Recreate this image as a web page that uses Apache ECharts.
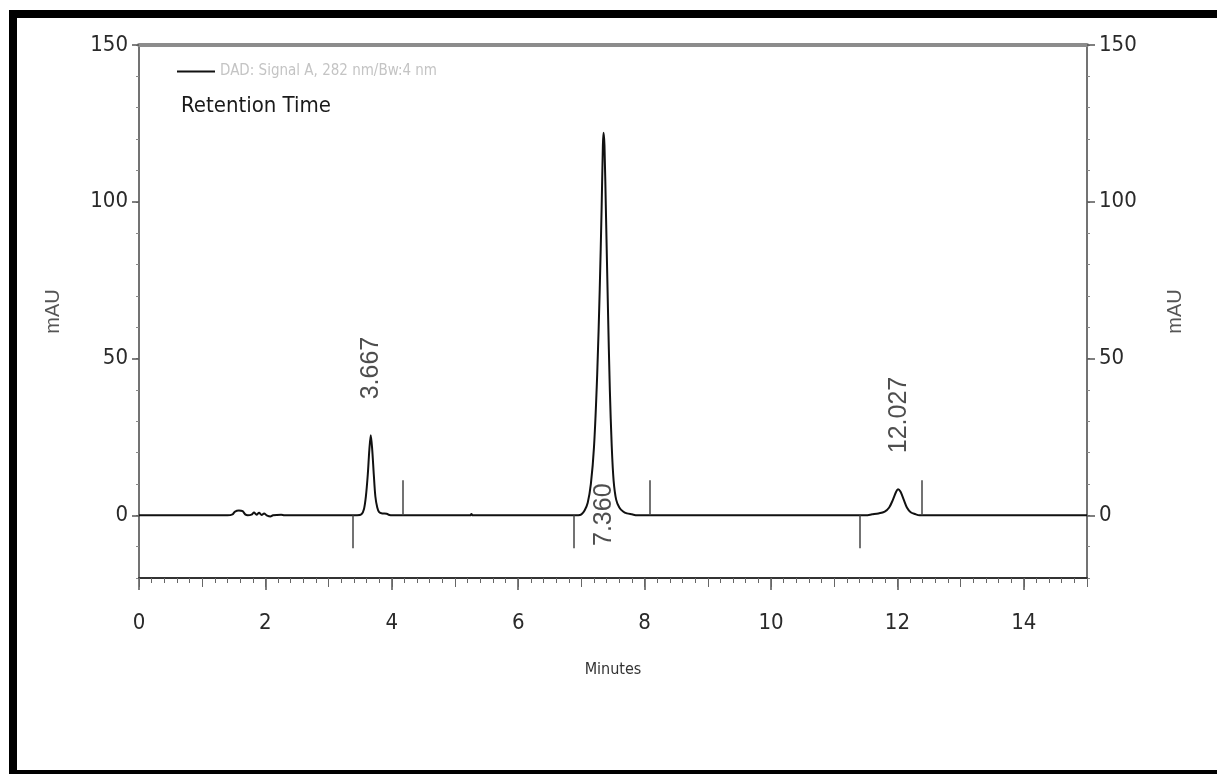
<!DOCTYPE html>
<html>
<head>
<meta charset="utf-8">
<script src="https://cdn.jsdelivr.net/npm/echarts@6/dist/echarts.min.js"></script>
<style>
  html, body { margin: 0; padding: 0; background: #fff; }
  #container { width: 1217px; height: 774px; }
</style>
</head>
<body>
<div id="container"></div>
<script>
// chromatogram trace, [minutes, mAU]
var signal = [
  [0, 0], [1.40, 0], [1.48, 0.3], [1.52, 1.2], [1.58, 1.5], [1.64, 1.3], [1.68, 0.3], [1.72, 0],
  [1.78, 0.2], [1.82, 0.9], [1.86, 0.2], [1.90, 0.8], [1.94, 0.1], [1.98, 0.6], [2.02, 0],
  [2.08, -0.4], [2.12, 0], [2.25, 0.2], [2.30, 0],
  [3.45, 0], [3.52, 0.3], [3.56, 2], [3.59, 6], [3.62, 13], [3.645, 21], [3.667, 25.5],
  [3.69, 21], [3.715, 13], [3.74, 6], [3.77, 2.5], [3.80, 1], [3.85, 0.6], [3.92, 0.5], [3.96, 0.1], [4.02, 0],
  [5.24, 0], [5.26, 0.4], [5.28, 0],
  [6.95, 0], [7.00, 0.3], [7.05, 1.5], [7.10, 4], [7.15, 10], [7.20, 22], [7.25, 45], [7.29, 72],
  [7.32, 98], [7.34, 118], [7.35, 122], [7.365, 118], [7.39, 95], [7.42, 66], [7.45, 40], [7.48, 22],
  [7.51, 11], [7.55, 5], [7.60, 2.5], [7.66, 1.2], [7.72, 0.6], [7.80, 0.3], [7.88, 0],
  [11.50, 0], [11.60, 0.3], [11.70, 0.6], [11.80, 1.2], [11.87, 2.5], [11.93, 5], [11.98, 7.5],
  [12.01, 8.3], [12.05, 7.5], [12.10, 5], [12.15, 2.5], [12.21, 1], [12.28, 0.4], [12.35, 0],
  [15, 0]
];

var peakTimes = [3.667, 7.360, 12.027];
var peakHeights = [25.5, 122, 8.3];
var peakStart = [3.39, 6.88, 11.41];
var peakEnd = [4.17, 8.08, 12.38];

var xTicks = [0, 2, 4, 6, 8, 10, 12, 14];
var yTicks = [0, 50, 100, 150];

var signalName = 'DAD: Signal A, 282 nm/Bw:4 nm';

var narrow = "'Liberation Sans Narrow', 'DejaVu Sans Condensed', sans-serif";
var plain = "'Liberation Sans', Arial, sans-serif";

var dom = document.getElementById('container');
var myChart = echarts.init(dom, null, { renderer: 'canvas' });

// baseline markers: start of peak goes down, end of peak goes up
var marks = [];
for (var i = 0; i < peakStart.length; i++) {
  marks.push([{ coord: [peakStart[i], 0] }, { coord: [peakStart[i], -10.5] }]);
  marks.push([{ coord: [peakEnd[i], 0] }, { coord: [peakEnd[i], 11.2] }]);
}

// retention time labels, the big one sits under the baseline
var labelPts = [];
for (var j = 0; j < peakTimes.length; j++) {
  var ly = peakHeights[j] > 100 ? -9.8 : peakHeights[j] + 11.5;
  labelPts.push({ name: peakTimes[j].toFixed(3), value: [peakTimes[j], ly] });
}

var axisCol = '#2a2a2a';

function xAx(extra) {
  var a = {
    type: 'value', min: 0, max: 15, position: 'bottom',
    axisLine: { show: false, onZero: false },
    axisTick: { show: false },
    axisLabel: { show: false },
    splitLine: { show: false }
  };
  for (var k in extra) a[k] = extra[k];
  return a;
}

function yAx(extra) {
  var a = {
    type: 'value', min: -20, max: 150, position: 'left',
    axisLine: { show: false, onZero: false },
    axisTick: { show: false },
    axisLabel: { show: false },
    splitLine: { show: false }
  };
  for (var k in extra) a[k] = extra[k];
  return a;
}

option = {
  backgroundColor: '#fff',
  animation: false,
  title: {
    text: 'Retention Time',
    left: 176,
    top: 90,
    textStyle: { fontFamily: narrow, fontSize: 22, fontWeight: 'normal', color: '#1a1a1a' }
  },
  legend: {
    left: 172,
    top: 59,
    itemWidth: 38,
    itemHeight: 14,
    itemGap: 8,
    data: [{ name: signalName, icon: 'path://M0,6 L38,6 L38,8 L0,8 Z' }],
    textStyle: { fontFamily: narrow, fontSize: 15, color: '#c4c4c4' }
  },
  grid: { left: 139, right: 130, top: 45, bottom: 196 },
  xAxis: [
    xAx({
      interval: 2,
      name: 'Minutes', nameLocation: 'middle', nameGap: 84,
      nameTextStyle: { fontFamily: narrow, fontSize: 16, color: '#333' },
      axisLine: { show: true, onZero: false, lineStyle: { color: '#333', width: 2 } },
      axisTick: { show: true, length: 12, lineStyle: { color: '#555', width: 1.5 } },
      axisLabel: {
        show: true, margin: 34, showMaxLabel: false, fontFamily: narrow, fontSize: 22, color: axisCol,
        formatter: function (v) { return xTicks.indexOf(v) >= 0 ? String(v) : ''; }
      }
    }),
    xAx({
      interval: 0.2,
      axisTick: { show: true, length: 5, lineStyle: { color: '#666', width: 1 } }
    }),
    xAx({
      interval: 1,
      axisTick: { show: true, length: 9, lineStyle: { color: '#666', width: 1 } }
    }),
    xAx({
      position: 'top',
      axisLine: { show: true, onZero: false, lineStyle: { color: '#8c8c8c', width: 4 } }
    })
  ],
  yAxis: [
    yAx({
      interval: 10,
      name: 'mAU', nameLocation: 'middle', nameGap: 76, nameRotate: 90,
      nameTextStyle: { fontFamily: plain, fontSize: 20, color: '#555' },
      axisLine: { show: true, onZero: false, lineStyle: { color: '#444', width: 1.5 } },
      axisTick: { show: true, length: 3, lineStyle: { color: '#888', width: 1 } },
      axisLabel: {
        show: true, margin: 11, fontFamily: narrow, fontSize: 22, color: axisCol,
        formatter: function (v) { return yTicks.indexOf(v) >= 0 ? String(v) : ''; }
      }
    }),
    yAx({
      axisTick: { show: true, length: 7, customValues: yTicks, lineStyle: { color: '#555', width: 1.5 } }
    }),
    yAx({
      position: 'right',
      interval: 10,
      name: 'mAU', nameLocation: 'middle', nameGap: 78, nameRotate: 90,
      nameTextStyle: { fontFamily: plain, fontSize: 20, color: '#555' },
      axisLine: { show: true, onZero: false, lineStyle: { color: '#444', width: 1.5 } },
      axisTick: { show: true, length: 3, lineStyle: { color: '#888', width: 1 } },
      axisLabel: {
        show: true, margin: 12, fontFamily: narrow, fontSize: 22, color: axisCol,
        formatter: function (v) { return yTicks.indexOf(v) >= 0 ? String(v) : ''; }
      }
    }),
    yAx({
      position: 'right',
      axisTick: { show: true, length: 8, customValues: yTicks, lineStyle: { color: '#555', width: 1.5 } }
    })
  ],
  series: [
    {
      name: signalName,
      type: 'line',
      xAxisIndex: 0,
      yAxisIndex: 0,
      data: signal,
      showSymbol: false,
      symbol: 'none',
      smooth: 0.3,
      lineStyle: { color: '#111', width: 2 },
      itemStyle: { color: '#111' },
      markLine: {
        silent: true,
        symbol: ['none', 'none'],
        label: { show: false },
        lineStyle: { color: '#444', width: 1.5, type: 'solid' },
        data: marks
      }
    },
    {
      name: 'rt',
      type: 'scatter',
      xAxisIndex: 0,
      yAxisIndex: 0,
      symbolSize: 1,
      itemStyle: { color: 'rgba(0,0,0,0)' },
      data: labelPts,
      label: {
        show: true,
        position: 'inside',
        rotate: 90,
        align: 'left',
        verticalAlign: 'middle',
        formatter: '{b}',
        fontFamily: plain,
        fontSize: 25,
        color: '#222'
      }
    }
  ],
  graphic: [
    { type: 'rect', left: 9, top: 10, shape: { width: 1208, height: 8 }, style: { fill: '#000' } },
    { type: 'rect', left: 9, top: 10, shape: { width: 8, height: 764 }, style: { fill: '#000' } },
    { type: 'rect', left: 9, top: 770, shape: { width: 1208, height: 4 }, style: { fill: '#000' } }
  ]
};

if (option && typeof option === "object") {
  myChart.setOption(option, true);
}
</script>
</body>
</html>
